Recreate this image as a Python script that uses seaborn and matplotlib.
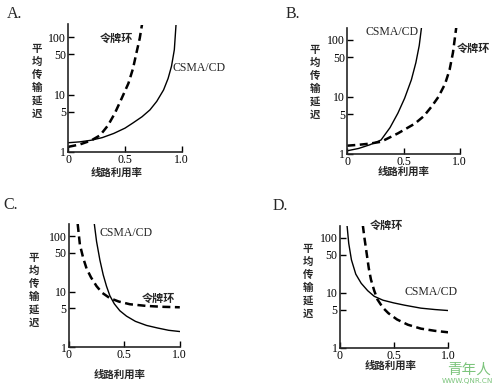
import matplotlib

matplotlib.use("Agg")
import matplotlib.pyplot as plt
import pandas as pd
import seaborn as sns

# ---- data (x = line utilisation, y = mean delay) ----
A_ring_x = [0, 0.1, 0.2, 0.28, 0.35, 0.41, 0.47, 0.53, 0.57, 0.60, 0.63, 0.65]
A_ring_y = [1.23, 1.35, 1.58, 1.95, 2.9, 4.7, 8.5, 15.6, 28, 52, 95, 165]
A_csma_x = [0, 0.1, 0.2, 0.3, 0.4, 0.5, 0.57, 0.65, 0.72, 0.78, 0.84, 0.88, 0.91, 0.935, 0.95]
A_csma_y = [1.45, 1.5, 1.6, 1.78, 2.1, 2.6, 3.2, 4.1, 5.4, 7.6, 12, 19, 31, 60, 165]

B_csma_x = [0, 0.1, 0.2, 0.3, 0.38, 0.45, 0.51, 0.57, 0.61, 0.64, 0.66]
B_csma_y = [1.14, 1.25, 1.45, 1.76, 2.9, 5.2, 9.5, 20, 40, 80, 165]
B_ring_x = [0, 0.1, 0.2, 0.3, 0.45, 0.6, 0.68, 0.75, 0.81, 0.87, 0.91, 0.94, 0.97]
B_ring_y = [1.4, 1.45, 1.52, 1.64, 2.3, 3.4, 4.6, 6.8, 10, 17, 30, 60, 170]

C_ring_x = [0.08, 0.1, 0.13, 0.16, 0.2, 0.25, 0.3, 0.37, 0.45, 0.55, 0.7, 0.85, 1.0]
C_ring_y = [165, 70, 40, 26, 18, 12.5, 9.5, 7.6, 6.6, 5.9, 5.5, 5.3, 5.2]
C_csma_x = [0.23, 0.25, 0.28, 0.31, 0.34, 0.37, 0.41, 0.46, 0.52, 0.6, 0.7, 0.8, 0.9, 1.0]
C_csma_y = [165, 80, 37, 20, 12.4, 8.4, 6.0, 4.5, 3.6, 2.9, 2.45, 2.2, 2.0, 1.9]

D_csma_x = [0.07, 0.085, 0.11, 0.15, 0.2, 0.26, 0.32, 0.4, 0.5, 0.6, 0.75, 0.88, 1.0]
D_csma_y = [165, 80, 40, 22, 15, 11, 8.7, 7.4, 6.6, 6.0, 5.3, 5.0, 4.8]
D_ring_x = [0.215, 0.23, 0.25, 0.27, 0.29, 0.32, 0.35, 0.4, 0.45, 0.53, 0.63, 0.75, 0.88, 1.0]
D_ring_y = [170, 100, 53, 28, 17.5, 11, 7.6, 5.4, 4.3, 3.3, 2.65, 2.25, 2.05, 1.93]

y_ticks = [1, 5, 10, 50, 100]
x_ticks = [0, 0.5, 1.0]
x_tick_labels = ["0", "0.5", "1.0"]

RING = "令牌环"
CSMA = "CSMA/CD"
YLABEL = "平\n均\n传\n输\n延\n迟"
XLABEL = "线路利用率"

# ---- layout (pixels, origin top-left) ----
W, H = 498, 386
YTOP = 165
CJK = ["Noto Sans CJK SC", "DejaVu Sans"]
SERIF = ["Liberation Serif", "DejaVu Serif"]

sns.set_theme(style="ticks")
plt.rcParams.update({"font.family": SERIF, "axes.linewidth": 1.2})

fig = plt.figure(figsize=(W / 100, H / 100), dpi=100)


def px_axes(left, width, bottom, height):
    return fig.add_axes([left / W, (H - bottom) / H, width / W, height / H])


def panel(ax, curves, labels):
    for (xs, ys, dashed) in curves:
        df = pd.DataFrame({"x": xs, "y": ys})
        sns.lineplot(
            data=df, x="x", y="y", ax=ax, color="black",
            linewidth=1.8 if dashed else 1.0,
            linestyle=(0, (3.2, 1.8)) if dashed else "-",
            sort=False,
        )
    ax.set_yscale("log")
    ax.set_ylim(1, YTOP)
    ax.set_xlim(0, 1.0)
    ax.set_yticks(y_ticks)
    ax.set_yticklabels([str(t) for t in y_ticks])
    ax.minorticks_off()
    ax.set_xticks(x_ticks)
    ax.set_xticklabels(x_tick_labels)
    ax.tick_params(direction="in", length=4, width=1, pad=1.5, labelsize=8.5,
                   colors="black")
    ax.set_xlabel("")
    ax.set_ylabel("")
    sns.despine(ax=ax)
    for text, x, y, ha in labels:
        fam = CJK if text == RING else SERIF
        kw = {"fontweight": "bold"} if text == RING else {}
        ax.text(x, y, text, ha=ha, va="center", fontsize=8.5 if text == CSMA else 8,
                family=fam, clip_on=False, **kw)


def ftext(x, y, s, **kw):
    fig.text(x / W, 1 - y / H, s, **kw)


axA = px_axes(68.3, 113.4, 152, 127.5)
panel(axA, [(A_csma_x, A_csma_y, False), (A_ring_x, A_ring_y, True)],
      [(RING, 0.28, 96, "left"), (CSMA, 0.92, 29, "left")])

axB = px_axes(347.3, 112.4, 154, 126.4)
panel(axB, [(B_csma_x, B_csma_y, False), (B_ring_x, B_ring_y, True)],
      [(CSMA, 0.16, 138, "left"), (RING, 0.97, 72, "left")])

axC = px_axes(68.8, 111, 347, 123)
panel(axC, [(C_csma_x, C_csma_y, False), (C_ring_x, C_ring_y, True)],
      [(CSMA, 0.28, 113, "left"), (RING, 0.66, 7.6, "left")])

axD = px_axes(339.5, 108.5, 348, 122)
panel(axD, [(D_csma_x, D_csma_y, False), (D_ring_x, D_ring_y, True)],
      [(RING, 0.28, 172, "left"), (CSMA, 0.60, 10.4, "left")])

# panel letters
for s, x, y in [("A.", 7, 14), ("B.", 286, 14), ("C.", 3, 205), ("D.", 273, 206)]:
    ftext(x, y, s, fontsize=11.5, family=SERIF, va="center", ha="left")

# axis titles
for x, y in [(37, 81), (315, 82), (34, 290), (308, 281)]:
    ftext(x, y, YLABEL, fontsize=7.5, family=CJK, fontweight="bold",
          ha="center", va="center", linespacing=1.35)
for x, y in [(117, 173), (404, 172), (120, 375), (391, 366)]:
    ftext(x, y, XLABEL, fontsize=7.5, family=CJK, fontweight="bold",
          ha="center", va="center")

# watermark
ftext(469, 370, "青年人", fontsize=10.5, family=CJK, color="#7cc47c",
      ha="center", va="center")
ftext(467, 381.5, "WWW.QNR.CN", fontsize=5.2, family=["DejaVu Sans"],
      color="#7cc47c", ha="center", va="center")

fig.savefig("out.png", dpi=100)
